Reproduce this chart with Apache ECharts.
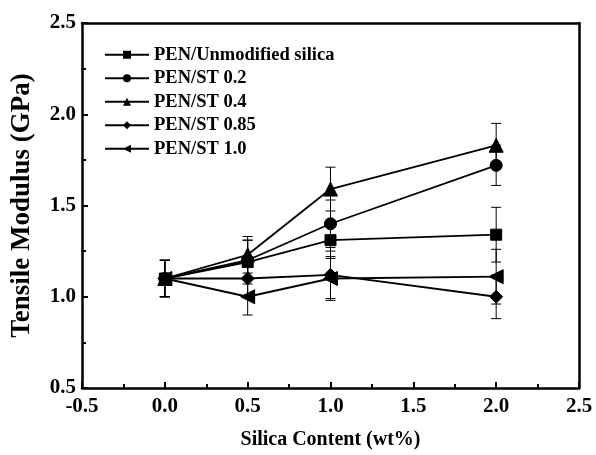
<!DOCTYPE html>
<html>
<head>
<meta charset="utf-8"/>
<title>Tensile Modulus</title>
<script src="https://cdn.jsdelivr.net/npm/echarts@6/dist/echarts.min.js"></script>
<style>
  html, body { margin: 0; padding: 0; background: #fff; }
  #main { width: 596px; height: 455px; }
</style>
</head>
<body>
<div id="main"></div>
<script>
// silica content (wt%)
var silica = [0, 0.5, 1.0, 2.0];

var names = ['PEN/Unmodified silica', 'PEN/ST 0.2', 'PEN/ST 0.4', 'PEN/ST 0.85', 'PEN/ST 1.0'];

// tensile modulus (GPa) and error
var unmodified = [1.10, 1.19, 1.31, 1.34];
var unmodifiedErr = [0.10, 0.12, 0.10, 0.15];
var st02 = [1.10, 1.20, 1.40, 1.72];
var st02Err = [0.10, 0.11, 0.13, 0.11];
var st04 = [1.10, 1.23, 1.59, 1.83];
var st04Err = [0.10, 0.10, 0.12, 0.12];
var st085 = [1.10, 1.10, 1.12, 1.00];
var st085Err = [0.10, 0.10, 0.13, 0.12];
var st10 = [1.10, 1.00, 1.10, 1.11];
var st10Err = [0.10, 0.10, 0.12, 0.15];

var values = [unmodified, st02, st04, st085, st10];
var errors = [unmodifiedErr, st02Err, st04Err, st085Err, st10Err];
var symbols = ['rect', 'circle', 'triangle', 'diamond', 'triangle'];
var rotates = [0, 0, 0, 0, 90];
var sizes = [11, 12, 14, 13, 14];

var font = 'Liberation Serif';

function errorBar(params, api) {
    var x = api.value(0);
    var top = api.coord([x, api.value(2)]);
    var bot = api.coord([x, api.value(1)]);
    var w = 5;
    var st = { stroke: '#000', lineWidth: 1 };
    return {
        type: 'group',
        children: [
            { type: 'line', shape: { x1: top[0], y1: top[1], x2: bot[0], y2: bot[1] }, style: st },
            { type: 'line', shape: { x1: top[0] - w, y1: top[1], x2: top[0] + w, y2: top[1] }, style: st },
            { type: 'line', shape: { x1: bot[0] - w, y1: bot[1], x2: bot[0] + w, y2: bot[1] }, style: st }
        ]
    };
}

var series = [];
for (var s = 0; s < names.length; s++) {
    var pts = [], errs = [];
    for (var i = 0; i < silica.length; i++) {
        pts.push([silica[i], values[s][i]]);
        errs.push([silica[i], values[s][i] - errors[s][i], values[s][i] + errors[s][i]]);
    }
    series.push({
        type: 'custom',
        renderItem: errorBar,
        data: errs,
        encode: { x: 0, y: [1, 2] },
        silent: true,
        z: 1
    });
    series.push({
        name: names[s],
        type: 'line',
        data: pts,
        symbol: symbols[s],
        symbolSize: sizes[s],
        symbolRotate: rotates[s],
        showAllSymbol: true,
        lineStyle: { color: '#000', width: 1.8 },
        itemStyle: { color: '#000', borderColor: '#000' },
        animation: false,
        z: 2
    });
}

var chart = echarts.init(document.getElementById('main'));
chart.setOption({
    animation: false,
    grid: { left: 82, right: 17, top: 23, bottom: 65 },
    legend: {
        orient: 'vertical',
        left: 99,
        top: 40,
        itemWidth: 44,
        itemHeight: 10,
        itemGap: 4,
        data: names,
        textStyle: { fontFamily: font, fontWeight: 'bold', fontSize: 18.5, color: '#000', lineHeight: 19.5 }
    },
    xAxis: [{
        type: 'value',
        min: -0.5, max: 2.5, interval: 0.5,
        name: 'Silica Content (wt%)',
        nameLocation: 'middle',
        nameGap: 42,
        nameTextStyle: { fontFamily: font, fontWeight: 'bold', fontSize: 20, color: '#000' },
        axisLine: { onZero: false, lineStyle: { color: '#000', width: 2.5 } },
        axisTick: { inside: true, length: 6, lineStyle: { color: '#000', width: 2 } },
        minorTick: { show: true, splitNumber: 2, length: 4, lineStyle: { color: '#000', width: 2 } },
        splitLine: { show: false },
        axisLabel: {
            fontFamily: font, fontWeight: 'bold', fontSize: 21, color: '#000', margin: 8,
            formatter: function (v) { return v.toFixed(1); }
        }
    }, {
        type: 'value', position: 'top',
        min: -0.5, max: 2.5, interval: 0.5,
        axisLine: { onZero: false, lineStyle: { color: '#000', width: 2.5 } },
        axisTick: { show: false }, axisLabel: { show: false }, splitLine: { show: false }
    }],
    yAxis: [{
        type: 'value',
        min: 0.5, max: 2.5, interval: 0.5,
        name: 'Tensile Modulus (GPa)',
        nameLocation: 'middle',
        nameGap: 46,
        nameTextStyle: { fontFamily: font, fontWeight: 'bold', fontSize: 27, color: '#000' },
        axisLine: { onZero: false, lineStyle: { color: '#000', width: 2.5 } },
        axisTick: { inside: true, length: 6, lineStyle: { color: '#000', width: 2 } },
        minorTick: { show: true, splitNumber: 2, length: 4, lineStyle: { color: '#000', width: 2 } },
        splitLine: { show: false },
        axisLabel: {
            fontFamily: font, fontWeight: 'bold', fontSize: 21, color: '#000', margin: 6,
            formatter: function (v) { return v.toFixed(1); }
        }
    }, {
        type: 'value', position: 'right',
        min: 0.5, max: 2.5, interval: 0.5,
        axisLine: { onZero: false, lineStyle: { color: '#000', width: 2.5 } },
        axisTick: { show: false }, axisLabel: { show: false }, splitLine: { show: false }
    }],
    series: series
});
</script>
</body>
</html>
